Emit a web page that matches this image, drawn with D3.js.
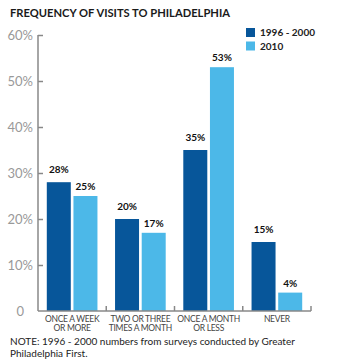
<!DOCTYPE html>
<html><head><meta charset="utf-8">
<script src="https://cdn.jsdelivr.net/npm/d3@7"></script>
<style>
html,body{margin:0;padding:0;background:#fff;}
svg{display:block;font-family:Lato, "Open Sans", sans-serif;}
</style></head>
<body>
<svg id="chart" width="350" height="362"></svg>
<script>
const title = "FREQUENCY OF VISITS TO PHILADELPHIA";
const categories = [["ONCE A WEEK","OR MORE"],["TWO OR THREE","TIMES A MONTH"],["ONCE A MONTH","OR LESS"],["NEVER"]];
const seriesNames = ["1996 - 2000","2010"];
const values1996 = [28,20,35,15];
const values2010 = [25,17,53,4];
const yTicks = [0,10,20,30,40,50,60];
const yTickLabels = ["0","10%","20%","30%","40%","50%","60%"];
const note = ["NOTE: 1996 - 2000 numbers from surveys conducted by Greater","Philadelphia First."];
const colors = ["#07569a","#4cb8e8"];

const svg = d3.select("#chart");
const x0 = 38, x1 = 311, yTop = 35, yBase = 311;

const x = d3.scaleBand().domain(d3.range(categories.length)).range([x0, x1]).paddingInner(0).paddingOuter(0);
const xs = d3.scaleBand().domain([0,1]).range([0, x.bandwidth()]).paddingInner(0.1).paddingOuter(0.33);
const y = d3.scaleLinear().domain([0,60]).range([yBase, yTop]);

svg.append("text").attr("x",10).attr("y",17).text(title)
  .attr("font-size",12).attr("font-weight",700).attr("fill","#1a1a1a")
  .attr("textLength",220).attr("lengthAdjust","spacingAndGlyphs");

// legend
seriesNames.forEach((s,i)=>{
  svg.append("rect").attr("x",246).attr("y",28+i*13.5).attr("width",9).attr("height",9).attr("fill",colors[i]);
  svg.append("text").attr("x",260).attr("y",36+i*13.5).text(s)
    .attr("font-size",10).attr("font-weight",700).attr("fill","#222");
});

// y axis
const yAxis = d3.axisLeft(y).tickValues(yTicks).tickSize(-5).tickPadding(9)
  .tickFormat((d,i)=>yTickLabels[i]);
const gy = svg.append("g").attr("transform",`translate(${x0},0)`).call(yAxis);
gy.select(".domain").attr("stroke","#888").attr("stroke-width",1.5).attr("d",`M0,${yTop}V${yBase}`);
gy.selectAll(".tick line").attr("stroke","#888").attr("stroke-width",1.5)
  .attr("x1",0).attr("x2",d=>d===0?0:5);
gy.selectAll(".tick text").attr("font-size",13).attr("fill","#999").attr("font-family","Lato, sans-serif")
  .attr("x",d=>d===0?-14:-5);

// bars
const data = [values1996, values2010];
const g = svg.append("g");
categories.forEach((c,ci)=>{
  data.forEach((vals,si)=>{
    const bx = x(ci)+xs(si);
    g.append("rect").attr("x",bx).attr("y",y(vals[ci])).attr("width",xs.bandwidth())
      .attr("height",yBase - y(vals[ci])).attr("fill",colors[si]);
    g.append("text").attr("x",bx+xs.bandwidth()/2).attr("y",y(vals[ci])-(si===0?9:6))
      .attr("text-anchor","middle").attr("font-size",10).attr("font-weight",700).attr("fill","#111")
      .text(vals[ci]+"%");
  });
});

// x axis
const gx = svg.append("g");
gx.append("line").attr("x1",x0).attr("x2",x1).attr("y1",yBase).attr("y2",yBase).attr("stroke","#888").attr("stroke-width",1.5);
d3.range(1,categories.length+1).forEach(i=>{
  const tx = x0 + i*x.bandwidth();
  gx.append("line").attr("x1",tx).attr("x2",tx).attr("y1",yBase).attr("y2",yBase-5).attr("stroke","#888").attr("stroke-width",1.5);
});
categories.forEach((lines,ci)=>{
  const t = gx.append("text").attr("text-anchor","middle").attr("font-size",8.5).attr("fill","#444")
    .attr("letter-spacing",-0.3);
  lines.forEach((l,li)=>{
    t.append("tspan").attr("x",x(ci)+x.bandwidth()/2).attr("y",322+li*8.5).text(l);
  });
});

// note
note.forEach((l,i)=>{
  svg.append("text").attr("x",10).attr("y",345+i*12).attr("font-size",10).attr("fill","#222").text(l);
});
</script>
</body></html>
